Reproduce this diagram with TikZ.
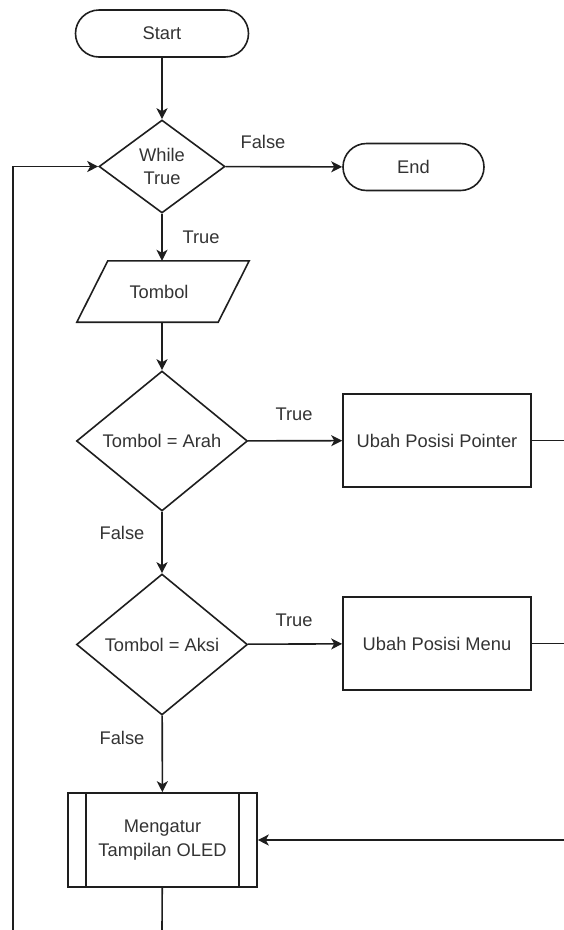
\documentclass[tikz,border=0pt]{standalone}
\usepackage{fontspec}
\setmainfont{Liberation Sans}
\usetikzlibrary{shapes.geometric,arrows.meta,calc}
\definecolor{ln}{HTML}{1E1E1E}
\definecolor{txt}{HTML}{333333}

\begin{document}
\begin{tikzpicture}[x=1pt,y=-1pt,
  every node/.style={font=\fontsize{18.3}{23.5}\selectfont, text=txt, align=center},
  line/.style={draw=ln, line width=1.6pt},
  flow/.style={line, -{Stealth[length=11pt,width=11pt,inset=3pt]}},
  term/.style={line, rounded corners=23.5pt, minimum width=#1, minimum height=47pt, inner sep=0pt},
  decision/.style={line, diamond, inner sep=0pt},
  procbox/.style={line, rectangle, minimum width=188pt, minimum height=93pt, inner sep=0pt},
  lbl/.style={inner sep=1pt}
]
\useasboundingbox (0,0) rectangle (564,930);

% shapes
\node[term=173pt] (start) at (162,33.5) {Start};
\node[decision, minimum width=126pt, minimum height=93pt] (while) at (162,166.5) {While\\True};
\node[term=141pt] (end) at (413.5,167) {End};
\node[minimum width=172pt, minimum height=61pt, inner sep=0pt] (tombol) at (163,291.5) {};
\node (tombolText) at (159,291.5) {Tombol};
\draw[line] (tombol.south west) -- ($(tombol.north west)+(31,0)$) -- (tombol.north east)
  -- ($(tombol.south east)+(-31,0)$) -- cycle;
\node[decision, minimum width=171pt, minimum height=140pt] (arah) at (162,441) {Tombol = Arah};
\node[procbox] (pointer) at (437,440.5) {Ubah Posisi Pointer};
\node[decision, minimum width=171pt, minimum height=141pt] (aksi) at (162,644.5) {Tombol = Aksi};
\node[procbox] (menu) at (437,643.5) {Ubah Posisi Menu};
\node[procbox, minimum width=189pt, minimum height=94pt] (oled) at (162.5,840) {Mengatur\\Tampilan OLED};
\draw[line] ($(oled.north west)+(19,0)$) -- ($(oled.south west)+(19,0)$);
\draw[line] ($(oled.north east)+(-19,0)$) -- ($(oled.south east)+(-19,0)$);

% free ends at the picture border
\coordinate (pout) at (564,440.5);
\coordinate (mout) at (564,643.5);
\coordinate (oin) at (564,840);
\coordinate (obot) at (162,930);
\coordinate (lbot) at (13,930);
\coordinate (ltop) at (13,166.5);

% connectors
\draw[flow] (start) -- (while);
\draw[flow] (while) -- (end);
\draw[flow] (while) -- (tombol.north -| while);
\draw[flow] (tombol.south -| arah) -- (arah.north);
\draw[flow] (arah) -- (pointer);
\draw[line] (pointer) -- (pout);
\draw[flow] (arah) -- (aksi);
\draw[flow] (aksi) -- (menu);
\draw[line] (menu) -- (mout);
\draw[flow] (aksi) -- (oled);
\draw[flow] (oin) -- (oled);
\draw[line] (oled) -- (obot);
\draw[flow] (lbot) -- (ltop) -- (while);

% labels
\node[lbl] (lf1) at (263,142) {False};
\node[lbl] (lt1) at (201,237) {True};
\node[lbl] (lt2) at (294,414) {True};
\node[lbl] (lf2) at (122,533) {False};
\node[lbl] (lt3) at (294,620) {True};
\node[lbl] (lf3) at (122,738) {False};
\end{tikzpicture}
\end{document}
